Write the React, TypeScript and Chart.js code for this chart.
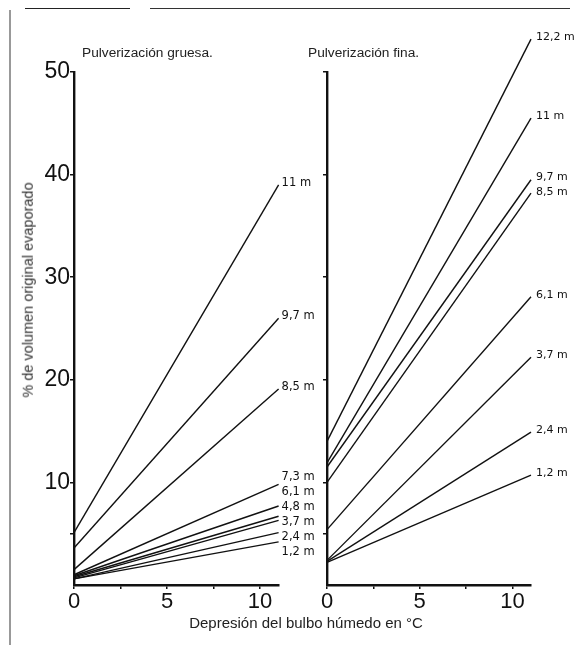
import React, { useEffect, useRef } from "react";
import { Chart, registerables } from "chart.js";

Chart.register(...registerables);

// ---- data ----
const xValues = [0, 11];
const xTickValues = [0, 2.5, 5, 7.5, 10];
const yTickValues = [0, 5, 10, 20, 30, 40, 50];

const coarseLabels = ["11 m", "9,7 m", "8,5 m", "7,3 m", "6,1 m", "4,8 m", "3,7 m", "2,4 m", "1,2 m"];
const coarseStart = [5.1, 3.6, 1.5, 1.0, 0.9, 0.8, 0.7, 0.6, 0.6];
const coarseEnd = [39.0, 26.0, 19.1, 9.8, 7.7, 6.7, 6.3, 5.1, 4.2];

const fineLabels = ["12,2 m", "11 m", "9,7 m", "8,5 m", "6,1 m", "3,7 m", "2,4 m", "1,2 m"];
const fineStart = [14.0, 11.9, 11.5, 10.0, 5.4, 2.4, 2.3, 2.2];
const fineEnd = [53.2, 45.5, 39.5, 38.2, 28.1, 22.2, 14.9, 10.7];

const INK = "#111";

function spread(ys: number[], gap: number): number[] {
  const idx = ys.map((y, i) => i).sort((a, b) => ys[a] - ys[b]);
  const v = idx.map((i) => ys[i]);
  for (let it = 0; it < 200; it++) {
    let moved = false;
    for (let k = 1; k < v.length; k++) {
      const d = v[k] - v[k - 1];
      if (d < gap - 0.01) {
        const s = (gap - d) / 2;
        v[k - 1] -= s;
        v[k] += s;
        moved = true;
      }
    }
    if (!moved) break;
  }
  const out = new Array(ys.length);
  idx.forEach((i, k) => (out[i] = v[k]));
  return out;
}

const endLabelPlugin = (font: string, dx: number) => ({
  id: "endLabels",
  afterDatasetsDraw(chart: any) {
    const ctx = chart.ctx;
    const pts: { x: number; y: number; label: string }[] = [];
    chart.data.datasets.forEach((ds: any, i: number) => {
      const meta = chart.getDatasetMeta(i);
      const last = meta.data[meta.data.length - 1];
      pts.push({ x: last.x, y: last.y - 2, label: ds.label });
    });
    const ys = spread(pts.map((p) => p.y), 15);
    ctx.save();
    ctx.font = font;
    ctx.fillStyle = INK;
    ctx.textBaseline = "middle";
    ctx.textAlign = "left";
    pts.forEach((p, i) => ctx.fillText(p.label, p.x + dx, ys[i]));
    ctx.restore();
  },
});

function makeConfig(
  labels: string[],
  starts: number[],
  ends: number[],
  yWidth: number,
  rightPad: number,
  showYLabels: boolean,
  labelFont: string,
  dx: number
): any {
  return {
    type: "line",
    data: {
      datasets: labels.map((l, i) => ({
        label: l,
        data: [
          { x: xValues[0], y: starts[i] },
          { x: xValues[1], y: ends[i] },
        ],
        borderColor: INK,
        borderWidth: 1.4,
        pointRadius: 0,
        tension: 0,
        clip: false,
      })),
    },
    options: {
      animation: false,
      responsive: false,
      events: [],
      layout: { padding: { left: 0, top: 72, right: rightPad, bottom: 20 } },
      plugins: { legend: { display: false }, tooltip: { enabled: false }, title: { display: false } },
      scales: {
        x: {
          type: "linear",
          min: 0,
          max: 11,
          afterBuildTicks: (s: any) => {
            s.ticks = xTickValues.map((v) => ({ value: v }));
          },
          afterFit: (s: any) => {
            s.height = 40;
          },
          border: { display: true, color: INK, width: 2.4 },
          grid: { drawOnChartArea: false, drawTicks: true, tickLength: 4, tickColor: INK, lineWidth: 1.5 },
          ticks: {
            color: INK,
            padding: 0,
            maxRotation: 0,
            autoSkip: false,
            font: { family: "'Liberation Sans', Arial, sans-serif", size: 22 },
            callback: (v: number) => (v % 5 === 0 ? String(v) : ""),
          },
        },
        y: {
          type: "linear",
          min: 0,
          max: 50,
          afterBuildTicks: (s: any) => {
            s.ticks = yTickValues.map((v) => ({ value: v }));
          },
          afterFit: (s: any) => {
            s.width = yWidth;
          },
          border: { display: true, color: INK, width: 2.4 },
          grid: {
            drawOnChartArea: false,
            drawTicks: true,
            tickLength: 4,
            lineWidth: 1.5,
            tickColor: (c: any) => (c.tick && c.tick.value === 0 ? "rgba(0,0,0,0)" : INK),
          },
          ticks: {
            color: INK,
            padding: 0,
            autoSkip: false,
            font: { family: "'Liberation Sans', Arial, sans-serif", size: 23 },
            callback: (v: number) => (showYLabels && v > 0 && v % 10 === 0 ? String(v) : ""),
          },
        },
      },
    },
    plugins: [endLabelPlugin(labelFont, dx)],
  };
}

export default function App() {
  const leftRef = useRef<HTMLCanvasElement | null>(null);
  const rightRef = useRef<HTMLCanvasElement | null>(null);

  useEffect(() => {
    const c1 = new Chart(
      leftRef.current as HTMLCanvasElement,
      makeConfig(coarseLabels, coarseStart, coarseEnd, 74, 580 - 278.6, true, "11.5px 'DejaVu Sans', sans-serif", 3)
    );
    const c2 = new Chart(
      rightRef.current as HTMLCanvasElement,
      makeConfig(fineLabels, fineStart, fineEnd, 327, 580 - 531, false, "11px 'DejaVu Sans', sans-serif", 5)
    );
    return () => {
      c1.destroy();
      c2.destroy();
    };
  }, []);

  const textFont = "'Liberation Sans', Arial, sans-serif";
  const abs: React.CSSProperties = { position: "absolute" };
  const txt: React.CSSProperties = {
    position: "absolute",
    fontFamily: textFont,
    color: "#222",
    whiteSpace: "nowrap",
    fontWeight: 400,
    lineHeight: 1,
  };

  return (
    <div style={{ position: "absolute", left: 0, top: 0, width: 580, height: 645, background: "#fff", overflow: "hidden" }}>
      {/* scan frame */}
      <div style={{ ...abs, left: 25, top: 8, width: 105, height: 0, borderTop: "1.5px solid #222" }} />
      <div style={{ ...abs, left: 150, top: 8, width: 420, height: 0, borderTop: "1.5px solid #333" }} />
      <div style={{ ...abs, left: 9, top: 10, width: 0, height: 635, borderLeft: "2px solid #999" }} />

      <canvas ref={leftRef} width={580} height={645} style={{ ...abs, left: 0, top: 0 }} />
      <canvas ref={rightRef} width={580} height={645} style={{ ...abs, left: 0, top: 0 }} />

      <div style={{ ...txt, left: 82, top: 53, fontSize: 13.7, transform: "translateY(-50%)" }}>
        Pulverización gruesa.
      </div>
      <div style={{ ...txt, left: 308, top: 53, fontSize: 13.7, transform: "translateY(-50%)" }}>
        Pulverización fina.
      </div>
      <div
        style={{
          ...txt,
          left: 27.5,
          top: 290,
          fontSize: 14.5,
          color: "#333",
          transform: "translate(-50%, -50%) rotate(-90deg)",
        }}
      >
        % de volumen original evaporado
      </div>
      <div style={{ ...txt, left: 306, top: 622, fontSize: 15, transform: "translate(-50%, -50%)" }}>
        Depresión del bulbo húmedo en °C
      </div>
    </div>
  );
}
